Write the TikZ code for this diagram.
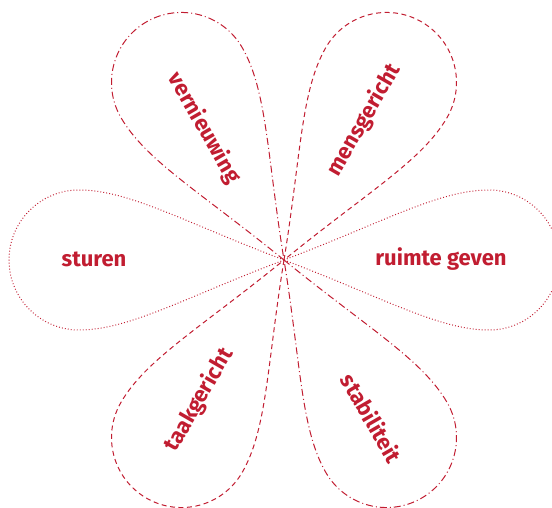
\documentclass[tikz,border=0pt]{standalone}
\usepackage{fontspec}
\setmainfont{Fira Sans}
\definecolor{petalred}{RGB}{193,29,49}
\begin{document}
\begin{tikzpicture}[x=1pt,y=1pt,
  petalline/.style={draw=petalred, line width=1pt},
  dsh/.style={petalline, dash pattern=on 5pt off 3.5pt},
  dshdot/.style={petalline, dash pattern=on 7pt off 3pt on 1pt off 3pt},
  dtt/.style={petalline, line width=1pt, dash pattern=on 0.9pt off 2.1pt},
  lbl/.style={text=petalred, font=\fontsize{22}{25}\selectfont\bfseries, inner sep=0pt},
  pics/petal/.style={code={
    \draw[#1] (0,0) .. controls (100,38) and (155,70) .. (205,70)
      arc[start angle=90, end angle=-90, radius=70]
      .. controls (155,-70) and (100,-38) .. (0,0) -- cycle;}}]
\useasboundingbox (0,0) rectangle (552,507);
\coordinate (c) at (284,247);
\pic[rotate=0]   at (c) {petal=dtt};
\pic[rotate=180] at (c) {petal=dtt};
\pic[rotate=60]  at (c) {petal=dsh};
\pic[rotate=240] at (c) {petal=dsh};
\pic[rotate=120] at (c) {petal=dshdot};
\pic[rotate=300] at (c) {petal=dshdot};
\node[lbl, rotate=-60] (vern) at (204,379) {vernieuwing};
\node[lbl, rotate=60]  (mens) at (364,387) {mensgericht};
\node[lbl]             (stur) at (94,248) {sturen};
\node[lbl]             (ruim) at (441,248) {ruimte geven};
\node[lbl, rotate=60]  (taak) at (199,107) {taakgericht};
\node[lbl, rotate=-60] (stab) at (372,89) {stabiliteit};
\end{tikzpicture}
\end{document}
